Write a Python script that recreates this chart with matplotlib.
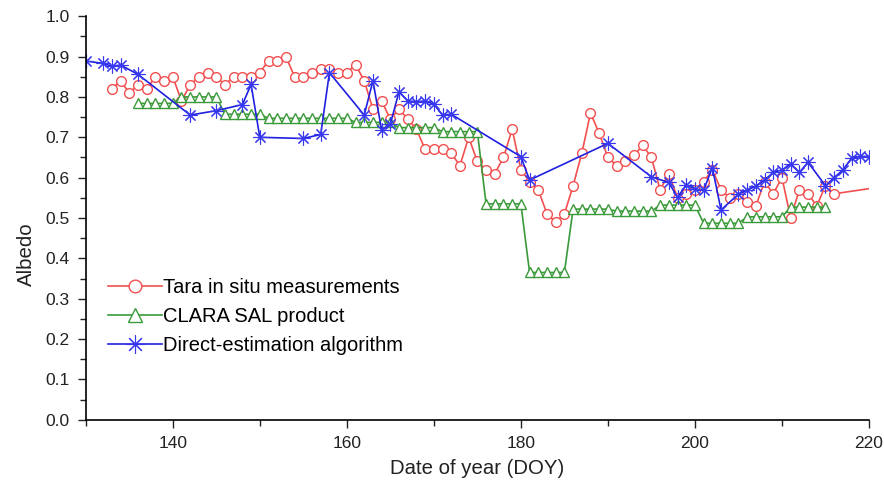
import matplotlib.pyplot as plt
from matplotlib.ticker import MultipleLocator, FormatStrFormatter

plt.rcParams['font.family'] = ['Liberation Sans', 'DejaVu Sans']

# Tara in situ measurements
tara_doy = [133, 134, 135, 136, 137, 138, 139, 140, 141, 142, 143, 144, 145, 146, 147,
            148, 149, 150, 151, 152, 153, 154, 155, 156, 157, 158, 159, 160, 161, 162,
            163, 164, 165, 166, 167, 168, 169, 170, 171, 172, 173, 174, 175, 176, 177,
            178, 179, 180, 181, 182, 183, 184, 185, 186, 187, 188, 189, 190, 191, 192,
            193, 194, 195, 196, 197, 198, 199, 200, 201, 202, 203, 204, 205, 206, 207,
            208, 209, 210, 211, 212, 213, 214, 215, 216, 222]
tara_alb = [0.82, 0.84, 0.81, 0.83, 0.82, 0.85, 0.84, 0.85, 0.79, 0.83, 0.85, 0.86, 0.85, 0.83, 0.85,
            0.85, 0.85, 0.86, 0.89, 0.89, 0.90, 0.85, 0.85, 0.86, 0.87, 0.87, 0.86, 0.86, 0.88, 0.84,
            0.77, 0.79, 0.745, 0.77, 0.745, 0.72, 0.67, 0.67, 0.67, 0.66, 0.63, 0.70, 0.64, 0.62, 0.61,
            0.65, 0.72, 0.62, 0.59, 0.57, 0.51, 0.49, 0.51, 0.58, 0.66, 0.76, 0.71, 0.65, 0.63, 0.64,
            0.655, 0.68, 0.65, 0.57, 0.61, 0.55, 0.56, 0.57, 0.59, 0.62, 0.57, 0.55, 0.56, 0.54, 0.53,
            0.59, 0.56, 0.60, 0.50, 0.57, 0.56, 0.53, 0.58, 0.56, 0.579]

# CLARA SAL product (pentad values, one per day)
clara_doy = list(range(136, 216))
clara_pentads = [0.784, 0.80, 0.757, 0.747, 0.747, 0.737, 0.724, 0.714,
                 0.535, 0.365, 0.522, 0.517, 0.532, 0.487, 0.503, 0.527]
clara_alb = [v for v in clara_pentads for _ in range(5)]

# Direct-estimation algorithm
de_doy = [130, 132, 133, 134, 136, 142, 145, 148, 149, 150, 155, 157, 158, 162, 163,
          164, 165, 166, 167, 168, 169, 170, 171, 172, 180, 181, 190, 195, 197, 198,
          199, 200, 201, 202, 203, 205, 206, 207, 208, 209, 210, 211, 212, 213, 215,
          216, 217, 218, 219, 220]
de_alb = [0.889, 0.883, 0.876, 0.879, 0.856, 0.755, 0.766, 0.781, 0.831, 0.70, 0.697, 0.707, 0.86, 0.755, 0.84,
          0.718, 0.733, 0.813, 0.79, 0.788, 0.79, 0.782, 0.755, 0.757, 0.652, 0.594, 0.685, 0.602, 0.588, 0.551,
          0.582, 0.572, 0.569, 0.625, 0.52, 0.559, 0.569, 0.579, 0.594, 0.613, 0.619, 0.633, 0.613, 0.638, 0.58,
          0.60, 0.619, 0.648, 0.653, 0.652]

fig = plt.figure(figsize=(8.84, 4.91), dpi=100)
ax = fig.add_axes([0.097, 0.145, 0.886, 0.822])

ax.plot(tara_doy, tara_alb, color='#f25050', lw=1.2, marker='o', ms=7,
        mfc='white', mec='#f25050', mew=1.0, label='Tara in situ measurements')
ax.plot(clara_doy, clara_alb, color='#3a9a3a', lw=1.2, marker='^', ms=7.5,
        mfc='white', mec='#3a9a3a', mew=1.0, label='CLARA SAL product')
ax.plot(de_doy, de_alb, color='#2020e0', lw=1.2, marker=(8, 2, 0), ms=10,
        mec='#3838f0', mew=0.8, label='Direct-estimation algorithm')

ax.set_xlim(130, 220)
ax.set_ylim(0, 1.0)
ax.xaxis.set_major_locator(MultipleLocator(20))
ax.xaxis.set_minor_locator(MultipleLocator(10))
ax.yaxis.set_major_locator(MultipleLocator(0.1))
ax.yaxis.set_minor_locator(MultipleLocator(0.05))
ax.yaxis.set_major_formatter(FormatStrFormatter('%.1f'))
ax.tick_params(which='both', direction='out', labelsize=12.5, colors='#222222', width=1)
ax.tick_params(which='major', length=6, pad=5.5)
ax.tick_params(which='minor', length=4)
ax.spines['top'].set_visible(False)
ax.spines['right'].set_visible(False)
for s in ('left', 'bottom'):
    ax.spines[s].set_linewidth(1.2)

ax.set_xlabel('Date of year (DOY)', fontsize=14.7, color='#222222', labelpad=6)
ax.set_ylabel('Albedo', fontsize=14.7, color='#222222')
ax.yaxis.set_label_coords(-0.064, 0.41)

ax.legend(loc='center left', bbox_to_anchor=(0.028, 0.256), frameon=False, fontsize=14.5,
          handlelength=2.7, handletextpad=0.05, labelspacing=0.5, borderpad=0,
          borderaxespad=0, markerscale=1.3)

fig.savefig('out.png', dpi=100)
